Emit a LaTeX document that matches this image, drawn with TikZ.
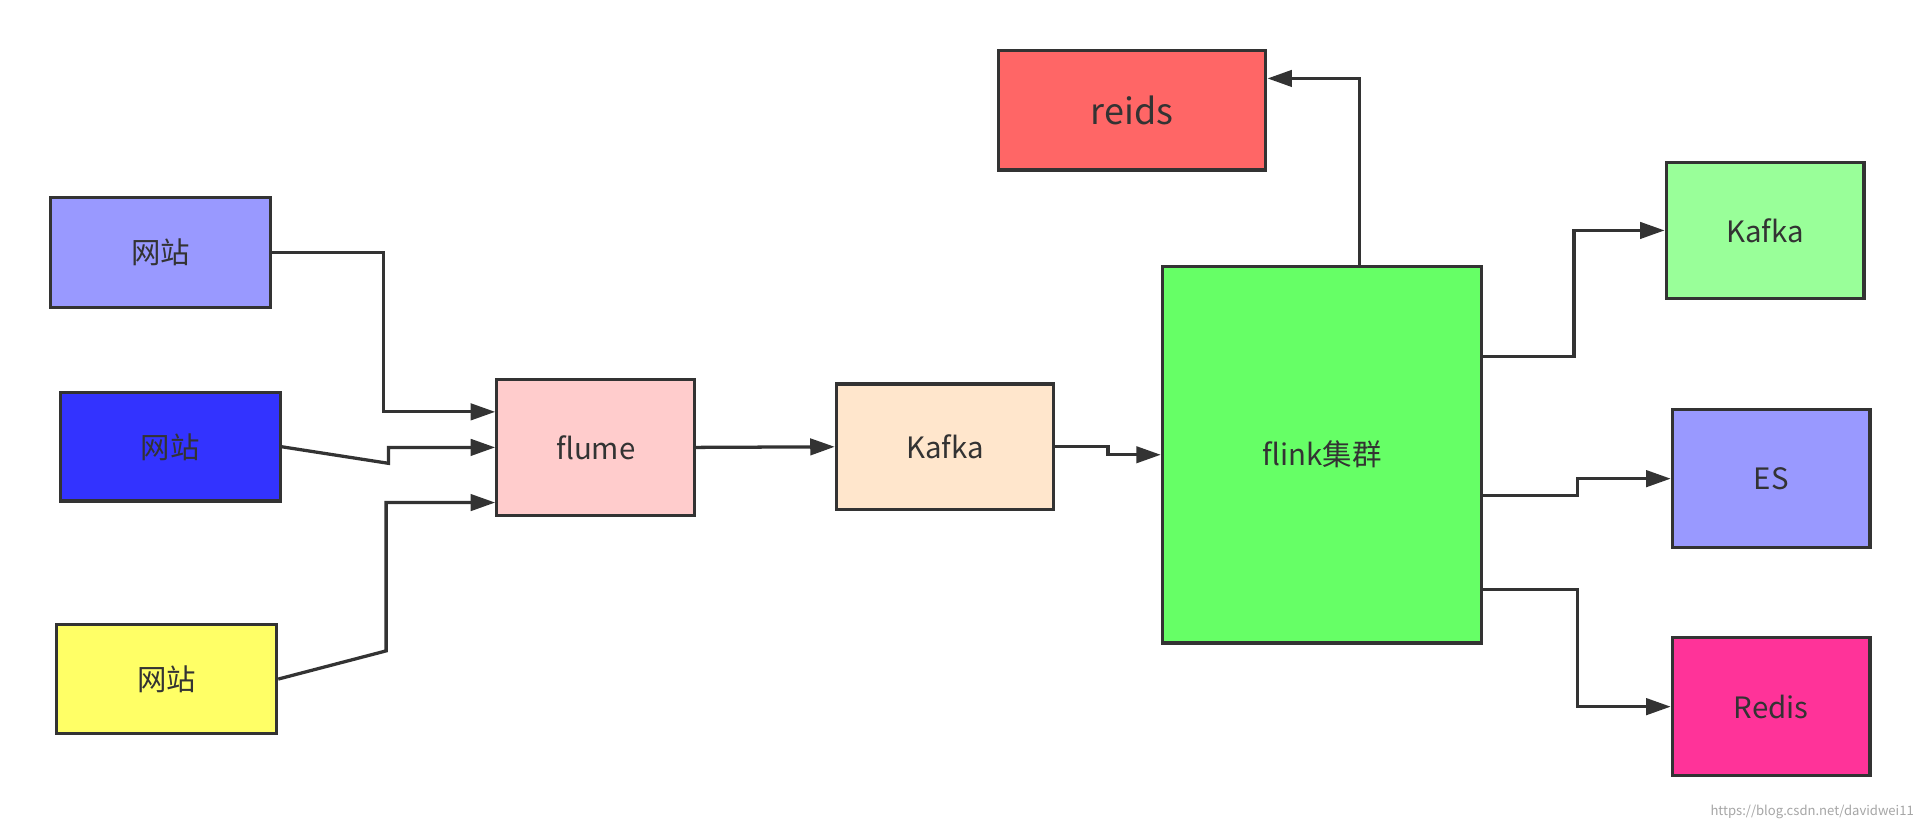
\documentclass[tikz,border=0pt]{standalone}
\usepackage{fontspec}
\setmainfont{Noto Sans CJK SC}
\usetikzlibrary{arrows.meta}
\definecolor{ln}{HTML}{333333}
\begin{document}
\begin{tikzpicture}[x=0.75pt,y=-0.75pt,
  box/.style={draw=ln,line width=2pt,inner sep=0pt,font=\fontsize{18}{20}\selectfont,text=ln},
  con/.style={draw=ln,line width=2pt,-{Triangle[length=15pt,width=10pt]}}]
\useasboundingbox[fill=white] (0,0) rectangle (1568,675.5);
\def\bx#1#2#3#4#5#6#7{\node[box,fill=#6,minimum width=#4*0.75pt-2pt,minimum height=#5*0.75pt-2pt] (#1) at (#2,#3) {#7};}
\bx{s1}{131}{206}{182}{92}{{rgb,255:red,153;green,153;blue,255}}{网站}
\bx{s2}{139}{364.5}{182}{91}{{rgb,255:red,51;green,51;blue,255}}{网站}
\bx{s3}{136}{554}{182}{92}{{rgb,255:red,255;green,255;blue,102}}{网站}
\bx{fl}{486}{365}{164}{114}{{rgb,255:red,255;green,204;blue,204}}{flume}
\bx{k1}{771}{364.5}{180}{105}{{rgb,255:red,255;green,230;blue,204}}{Kafka}
\bx{fk}{1078.5}{371}{263}{310}{{rgb,255:red,102;green,255;blue,102}}{flink集群}
\node[box,fill={rgb,255:red,255;green,102;blue,102},minimum width=221*0.75pt-2pt,minimum height=100*0.75pt-2pt,font=\fontsize{22}{24}\selectfont] (rd) at (923.5,90) {reids};
\bx{k2}{1440}{188}{164}{114}{{rgb,255:red,153;green,255;blue,153}}{Kafka}
\bx{es}{1445}{390.5}{164}{115}{{rgb,255:red,153;green,153;blue,255}}{ES}
\bx{rs}{1445}{576.5}{164}{115}{{rgb,255:red,255;green,51;blue,153}}{Redis}
\draw[con] (s1.east) -- (313,206) |- ([yshift=21.75pt]fl.west);
\draw[con] (s2.east) -- (317,378) |- (fl.west);
\draw[con] (s3.east) -- (315,531) |- ([yshift=-33.75pt]fl.west);
\draw[con] (fl.east) -- (k1.west);
\draw[con] (k1.east) -- (904,364.5) |- (fk.west);
\draw[con] (1109,216) |- (rd.east |- 0,64);
\draw[con] (1210,291) -| (1284,188) -- (k2.west);
\draw[con] (1210,404) -| (1287,390.5) -- (es.west);
\draw[con] (1210,481) -| (1287,576.5) -- (rs.west);
\node[anchor=east,text=gray!70,font=\fontsize{8}{9}\selectfont] (wm) at (1566,662) {https://blog.csdn.net/davidwei11};
\end{tikzpicture}
\end{document}
